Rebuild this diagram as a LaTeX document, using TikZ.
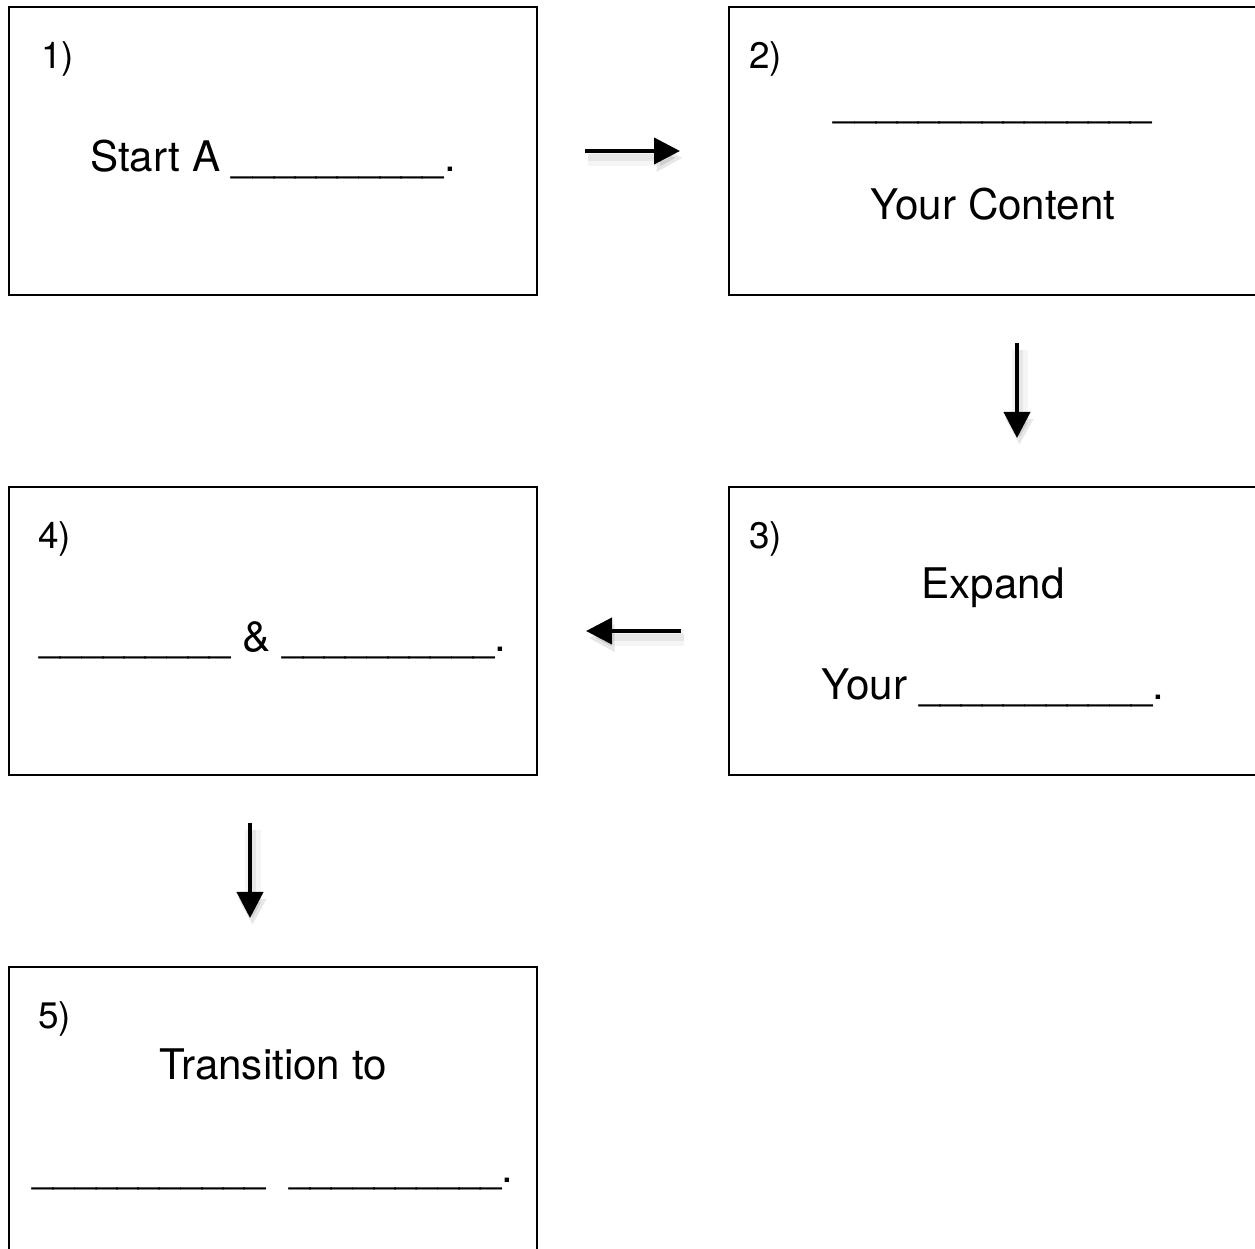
\documentclass[tikz,border=0pt]{standalone}
\usepackage{fontspec}
\setmainfont{TeX Gyre Heros}
\newfontfamily\blankfont{TeX Gyre Heros}[FakeStretch=0.905]
\usepackage{tikz}
\usetikzlibrary{arrows.meta,positioning}
\newcommand\gapline[1]{{\blankfont\foreach\k in {1,...,#1}{\_}}}
\tikzset{
	stepbox/.style={rectangle, draw=black, line width=1pt, outer sep=0pt, minimum width=10.56cm, minimum height=5.76cm},
	steptext/.style={inner sep=0pt, anchor=base, font=\fontsize{24}{28}\selectfont},
	stepnum/.style={inner sep=0pt, anchor=base west, font=\fontsize{21}{24}\selectfont},
	flow/.style={-{Triangle[length=0.52cm,width=0.52cm]}, line width=0.08cm, shorten <=0.96cm, shorten >=0.98cm,
		preaction={draw=black, opacity=0.04, line width=0.32cm, transform canvas={shift={(0.05,-0.14)}}},
		preaction={draw=black, opacity=0.06, line width=0.14cm, transform canvas={shift={(0.05,-0.14)}}}}
}
\begin{document}
\begin{tikzpicture}[node distance=3.84cm]
			\useasboundingbox (0,0) rectangle (25.1,-24.98);
			\clip (0,0) rectangle (25.1,-24.98);
			
			\node[stepbox] (b1) at (5.46,-3.02) {};
			\node[stepbox, right=of b1] (b2) {};
			\node[stepbox, below=of b2] (b3) {};
			\node[stepbox, left=of b3] (b4) {};
			\node[stepbox, below=of b4] (b5) {};
			
			\node[stepnum] (n1) at ([xshift=0.64cm,yshift=-1.24cm]b1.north west) {1)};
			\node[steptext] (t1) at ([yshift=-3.30cm]b1.north) {Start A \gapline{10}.};
			
			\node[stepnum] (n2) at ([xshift=0.40cm,yshift=-1.24cm]b2.north west) {2)};
			\node[steptext] (t2a) at ([yshift=-2.20cm]b2.north) {\gapline{15}};
			\node[steptext] (t2b) at ([yshift=-4.26cm]b2.north) {Your Content};
			
			\node[stepnum] (n3) at ([xshift=0.40cm,yshift=-1.24cm]b3.north west) {3)};
			\node[steptext] (t3a) at ([yshift=-2.24cm]b3.north) {Expand};
			\node[steptext] (t3b) at ([yshift=-4.26cm]b3.north) {Your \gapline{11}.};
			
			\node[stepnum] (n4) at ([xshift=0.58cm,yshift=-1.24cm]b4.north west) {4)};
			\node[steptext] (t4) at ([yshift=-3.30cm]b4.north) {\gapline{9} \& \gapline{10}.};
			
			\node[stepnum] (n5) at ([xshift=0.58cm,yshift=-1.24cm]b5.north west) {5)};
			\node[steptext] (t5a) at ([yshift=-2.24cm]b5.north) {Transition to};
			\node[steptext] (t5b) at ([yshift=-4.30cm]b5.north) {\gapline{11}\ \ \gapline{10}.};
			
			\draw[flow] (b1.east) -- (b2.west);
			\draw[flow] ([xshift=0.48cm]b2.south) -- ([xshift=0.48cm]b3.north);
			\draw[flow] (b3.west) -- (b4.east);
			\draw[flow] ([xshift=-0.46cm]b4.south) -- ([xshift=-0.46cm]b5.north);
		\end{tikzpicture}
\end{document}
